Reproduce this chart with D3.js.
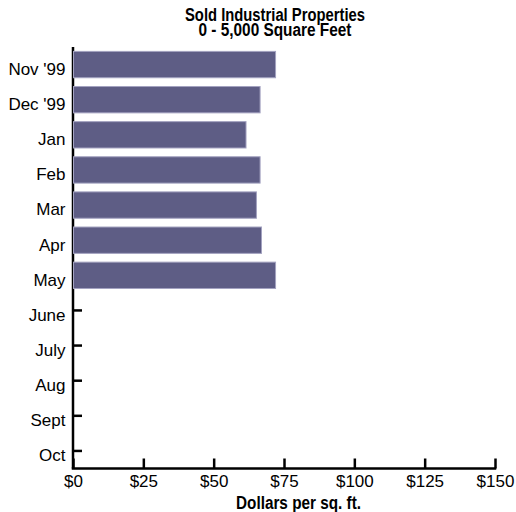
<!DOCTYPE html>
<html>
<head>
<meta charset="utf-8">
<script src="https://cdn.jsdelivr.net/npm/d3@7"></script>
<style>
  html, body { margin: 0; padding: 0; background: #fff; }
  svg { display: block; }
</style>
</head>
<body>
<svg id="chart" width="516" height="512"></svg>
<script>
const categories = ["Nov '99", "Dec '99", "Jan", "Feb", "Mar", "Apr", "May", "June", "July", "Aug", "Sept", "Oct"];
const values = [72, 66.5, 61.5, 66.5, 65.2, 67, 72, null, null, null, null, null];
const xTicks = [0, 25, 50, 75, 100, 125, 150];
const titleLines = ["Sold Industrial Properties", "0 - 5,000 Square Feet"];
const xTitle = "Dollars per sq. ft.";

(function () {
const svg = d3.select("#chart");
const mLeft = 73, mRight = 495, mTop = 47, mBottom = 468.5;
const x = d3.scaleLinear().domain([0, 150]).range([mLeft, mRight]);
const y = d3.scaleBand().domain(categories).range([mTop, mBottom]).paddingInner(0.25).paddingOuter(0.125);

const labelFont = "'Liberation Sans', Arial, Helvetica, sans-serif";
const boldFont = "'Liberation Sans', Arial, Helvetica, sans-serif";
const titleWidths = [180, 153];

// Title (one text element, two lines, condensed via textLength)
const title = svg.append("text")
  .attr("text-anchor", "middle")
  .attr("font-family", boldFont).attr("font-weight", "bold").attr("font-size", 17.5)
  .attr("fill", "#000");
title.selectAll("tspan").data(titleLines).join("tspan")
  .attr("x", 275).attr("y", (d, i) => 20.5 + i * 15.8)
  .attr("textLength", (d, i) => titleWidths[i])
  .attr("lengthAdjust", "spacingAndGlyphs")
  .text(d => d);

// Y axis
const yAxis = d3.axisLeft(y).tickSize(-9).tickPadding(0).tickSizeOuter(0);
const gy = svg.append("g").attr("transform", `translate(${mLeft},0)`).call(yAxis);
gy.select(".domain").attr("stroke", "#000").attr("stroke-width", 2.5).attr("d", `M0,${mTop}V${mBottom}`);
gy.selectAll(".tick line").attr("stroke", "#000").attr("stroke-width", 2.5);
gy.selectAll(".tick text")
  .attr("x", -7.5).attr("dy", null).attr("y", 10.3)
  .attr("font-family", labelFont).attr("font-size", 17).attr("fill", "#000");

// X axis
const xAxis = d3.axisBottom(x).tickValues(xTicks).tickFormat(d => "$" + d).tickSize(-10).tickSizeOuter(0);
const gx = svg.append("g").attr("transform", `translate(0,${mBottom})`).call(xAxis);
gx.select(".domain").attr("stroke", "#000").attr("stroke-width", 2.5).attr("d", `M${mLeft - 1.25},0H${mRight + 1.25}`);
gx.selectAll(".tick line").attr("stroke", "#000").attr("stroke-width", 2.5);
gx.selectAll(".tick text")
  .attr("y", 18.8).attr("dy", null)
  .attr("font-family", labelFont).attr("font-size", 17).attr("fill", "#000");

// Bars
const data = categories.map((c, i) => ({ c, v: values[i] })).filter(d => d.v != null);
svg.append("g").selectAll("rect").data(data).join("rect")
  .attr("x", x(0) + 0.5)
  .attr("y", d => y(d.c))
  .attr("width", d => x(d.v) - x(0) - 0.5)
  .attr("height", y.bandwidth())
  .attr("fill", "#5e5d85")
  .attr("stroke", "#a3a2c0").attr("stroke-width", 1);

// X title
svg.append("text")
  .attr("x", 298.5).attr("y", 509)
  .attr("text-anchor", "middle")
  .attr("font-family", boldFont).attr("font-weight", "bold").attr("font-size", 17.5)
  .attr("textLength", 125).attr("lengthAdjust", "spacingAndGlyphs")
  .attr("fill", "#000").text(xTitle);
})();
</script>
</body>
</html>
